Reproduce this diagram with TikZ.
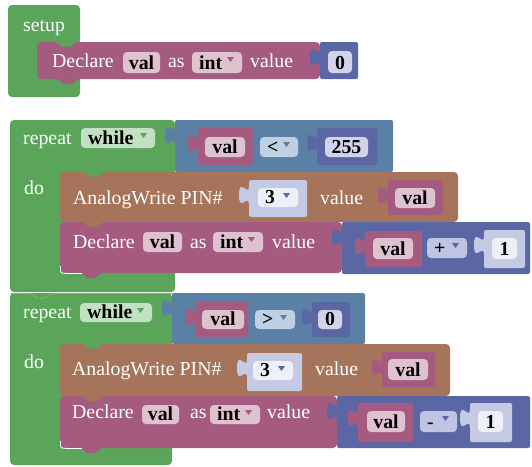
\documentclass[tikz,border=0pt]{standalone}
\usepackage{fontspec}
\setmainfont{Liberation Serif}
\newfontfamily\blkfont{Liberation Serif}
\definecolor{loopg}{HTML}{5BA55B}
\definecolor{loophl}{HTML}{7DB77D}
\definecolor{varp}{HTML}{A55B80}
\definecolor{logb}{HTML}{5B80A5}
\definecolor{mathb}{HTML}{5B67A5}
\definecolor{iob}{HTML}{A5745B}
\definecolor{lightb}{HTML}{C4CAE4}
\definecolor{fpur}{HTML}{DEC2D0}
\definecolor{fgrn}{HTML}{C2E0C2}
\definecolor{flog}{HTML}{BED0E2}
\definecolor{fmath}{HTML}{BFC4E2}
\definecolor{fnum}{HTML}{D0D3EA}
\definecolor{fwhite}{HTML}{EEF0F8}
\newcounter{nn}
\newcommand\fsz{\blkfont\fontsize{19.8}{20}\selectfont}
\tikzset{
  lbl/.style={text=white, anchor=base west, inner sep=0pt, font=\fsz},
  fv/.style={text=black, anchor=base, inner sep=0pt, font=\fsz\bfseries},
}
% statement / container block
\newcommand\sblk[5]{\fill[#1,rounded corners=4pt] (#2,#3) rectangle (#4,#5);}
% value block with puzzle tab on its left
\newcommand\ptab[3]{\fill[#1] (#2+1,#3+6) -- (#2,#3+6) .. controls (#2,#3+18) and (#2-10,#3-4) .. (#2-10,#3+15) .. controls (#2-10,#3+34) and (#2,#3+12) .. (#2,#3+25) -- (#2+1,#3+25) -- cycle;}
\newcommand\vblk[5]{\fill[#1,rounded corners=2pt] (#2,#3) rectangle (#4,#5);\ptab{#1}{#2}{#3}}
% top notch (filled with colour of block above) and bottom tab
\newcommand\ntop[3]{\fill[#1] (#2,#3-0.5) -- (#2+7,#3+4.5) -- (#2+15,#3+4.5) -- (#2+22,#3-0.5) -- cycle;}
\newcommand\nbot[3]{\fill[#1] (#2,#3-0.5) -- (#2+7,#3+5) -- (#2+15,#3+5) -- (#2+22,#3-0.5) -- cycle;}
% text label
\newcommand\lbl[3]{\stepcounter{nn}\node[lbl] (t\thenn) at (#1,#2) {#3};}
% editable field
\newcommand\fld[6]{\fill[#1,rounded corners=4pt] (#2,#3) rectangle (#4,#5);
  \stepcounter{nn}\node[fv] (f\thenn) at ({(#2+#4)/2},#5-3.5) {#6};}
% dropdown field
\newcommand\ddf[7]{\fill[#1,rounded corners=4pt] (#3,#4) rectangle (#5,#6);
  \stepcounter{nn}\node[fv,anchor=base west] (d\thenn) at (#3+7,#6-3.5) {#7};
  \fill[#2] (#5-15,#4+5) -- (#5-8,#4+5) -- (#5-11.5,#4+10) -- cycle;}
% inner-corner highlight of a loop mouth
\newcommand\hl[2]{\draw[white,line width=0.8pt] (#1+0.4,#2-7) .. controls (#1+0.4,#2+0.4) .. (#1+7,#2+0.4) -- (#1+22,#2+0.4);}
\begin{document}
\begin{tikzpicture}[x=1pt,y=-1pt]
\useasboundingbox (0,0) rectangle (532,466);
\fill[white] (0,0) rectangle (532,466);
% ---------------- setup ----------------
\sblk{loopg}{8}{5}{80}{97}
\lbl{23}{31}{setup}
\sblk{varp}{37}{42}{320}{79}
\ntop{loopg}{55}{42}
\nbot{varp}{57}{79}
\lbl{52}{67}{Declare}
\fld{fpur}{123}{52}{160}{73}{val}
\lbl{168}{67}{as}
\ddf{fpur}{varp}{192}{52}{242}{73}{int}
\lbl{250}{67}{value}
\vblk{mathb}{320}{42}{358}{79}
\fld{fnum}{328}{51}{352}{73}{0}
% ---------------- loop 1 ----------------
\sblk{loopg}{10}{120}{175}{292}
\lbl{23}{144}{repeat}
\ddf{fgrn}{loopg}{81}{128}{155}{148}{while}
\lbl{24}{194}{do}
\vblk{logb}{175}{120}{393}{172}
\vblk{varp}{198}{128}{253}{165}
\fld{fpur}{205}{137}{245}{157}{val}
\ddf{flog}{logb}{260}{137}{298}{157}{<}
\vblk{mathb}{317}{128}{377}{165}
\fld{fnum}{325}{137}{368}{157}{255}
% AnalogWrite
\sblk{iob}{60}{172}{458}{222}
\ntop{loopg}{83}{172}
\lbl{73}{204}{AnalogWrite PIN\#}
\vblk{lightb}{249}{180}{307}{217}
\ddf{fwhite}{mathb}{258}{188}{298}{207}{3}
\lbl{320}{204}{value}
\vblk{varp}{388}{180}{443}{215}
\fld{fpur}{395}{188}{435}{208}{val}
% Declare
\sblk{varp}{60}{222}{342}{273}
\nbot{iob}{82}{222}
\lbl{73}{248}{Declare}
\fld{fpur}{143}{232}{182}{252}{val}
\lbl{190}{248}{as}
\ddf{fpur}{varp}{213}{232}{263}{252}{int}
\lbl{272}{248}{value}
\vblk{mathb}{342}{222}{530}{274}
\vblk{varp}{365}{231}{422}{267}
\fld{fpur}{373}{238}{413}{259}{val}
\ddf{fmath}{mathb}{427}{238}{467}{258}{+}
\vblk{lightb}{484}{230}{525}{268}
\fld{fwhite}{492}{238}{517}{259}{1}
\nbot{varp}{80}{273}
\hl{60}{273}
% ---------------- loop 2 ----------------
\sblk{loopg}{10}{293}{172}{465}
\draw[loophl,line width=0.8pt] (11,293.5) -- (30,293.5) -- (37,298) -- (45,298) -- (52,293.5) -- (172,293.5);
\lbl{23}{318}{repeat}
\ddf{fgrn}{loopg}{80}{303}{152}{322}{while}
\lbl{24}{368}{do}
\vblk{logb}{172}{293}{365}{344}
\vblk{varp}{195}{302}{248}{337}
\fld{fpur}{202}{310}{244}{329}{val}
\ddf{flog}{logb}{255}{310}{295}{329}{>}
\vblk{mathb}{312}{302}{350}{337}
\fld{fnum}{318}{310}{342}{329}{0}
% AnalogWrite
\sblk{iob}{60}{344}{450}{396}
\ntop{loopg}{82}{344}
\lbl{72}{375}{AnalogWrite PIN\#}
\vblk{lightb}{247}{353}{302}{391}
\ddf{fwhite}{mathb}{253}{361}{293}{380}{3}
\lbl{315}{375}{value}
\vblk{varp}{382}{352}{435}{387}
\fld{fpur}{388}{359}{428}{380}{val}
% Declare
\sblk{varp}{60}{396}{337}{448}
\nbot{iob}{82}{396}
\lbl{72}{418}{Declare}
\fld{fpur}{142}{405}{179}{424}{val}
\lbl{190}{418}{as}
\ddf{fpur}{varp}{210}{405}{260}{424}{int}
\lbl{267}{418}{value}
\vblk{mathb}{337}{396}{530}{448}
\vblk{varp}{358}{403}{413}{442}
\fld{fpur}{367}{411}{405}{432}{val}
\ddf{fmath}{mathb}{420}{411}{457}{432}{-}
\vblk{lightb}{470}{403}{512}{442}
\fld{fwhite}{478}{411}{503}{432}{1}
\nbot{varp}{80}{448}
\hl{60}{448}
\end{tikzpicture}
\end{document}
